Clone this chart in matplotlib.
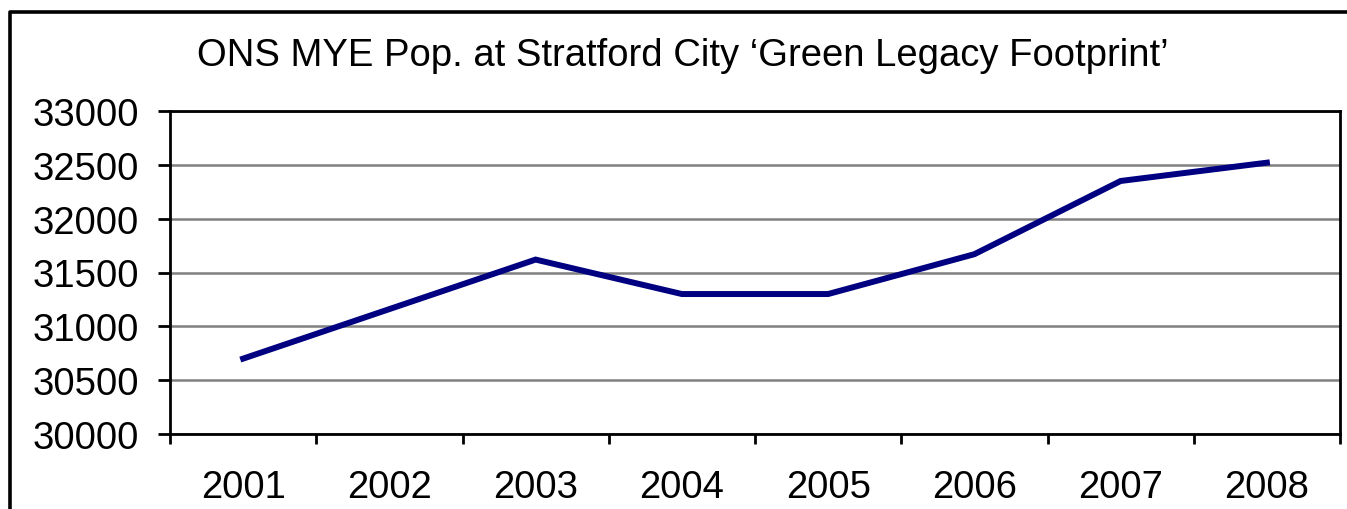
import matplotlib.pyplot as plt
from matplotlib.lines import Line2D

years = ['2001', '2002', '2003', '2004', '2005', '2006', '2007', '2008']
population = [30700, 31160, 31620, 31300, 31300, 31670, 32350, 32520]
y_ticks = [30000, 30500, 31000, 31500, 32000, 32500, 33000]
title = 'ONS MYE Pop. at Stratford City \u2018Green Legacy Footprint\u2019'

plt.rcParams['font.family'] = ['Liberation Sans', 'DejaVu Sans']

fig = plt.figure(figsize=(13.47, 5.10), dpi=100)
ax = fig.add_axes([170 / 1347, 1 - 435 / 510, 1170 / 1347, 323 / 510])

xs = [i + 0.5 for i in range(len(years))]
ax.plot(xs, population, color='#000080', linewidth=4.3, solid_joinstyle='miter', zorder=3)

ax.set_xlim(0, len(years))
ax.set_ylim(30000, 33000)
ax.set_yticks(y_ticks)
ax.set_yticklabels([str(v) for v in y_ticks])

# category boundaries get the tick marks, labels sit in the middle
ax.set_xticks(range(len(years) + 1))
ax.set_xticklabels([])
ax.set_xticks(xs, minor=True)
ax.set_xticklabels(years, minor=True)
ax.tick_params(axis='x', which='major', length=7.5, width=2, direction='out')
ax.tick_params(axis='x', which='minor', length=0, pad=25, labelsize=27.5)
ax.tick_params(axis='y', length=8.5, width=2, direction='out', pad=14, labelsize=27.5)

ax.grid(axis='y', color='#808080', linewidth=1.8)
ax.set_axisbelow(True)
for s in ax.spines.values():
    s.set_linewidth(2)
    s.set_color('black')

fig.text(683 / 1347, 1 - 56 / 510, title, ha='center', va='center', fontsize=27.5)

# outer chart frame (left and top edges)
fig.add_artist(Line2D([10 / 1347, 10 / 1347, 1.0], [0.0, 1 - 13 / 510, 1 - 13 / 510],
                      transform=fig.transFigure, color='black', linewidth=2.6))

fig.savefig('out.png', dpi=100)
